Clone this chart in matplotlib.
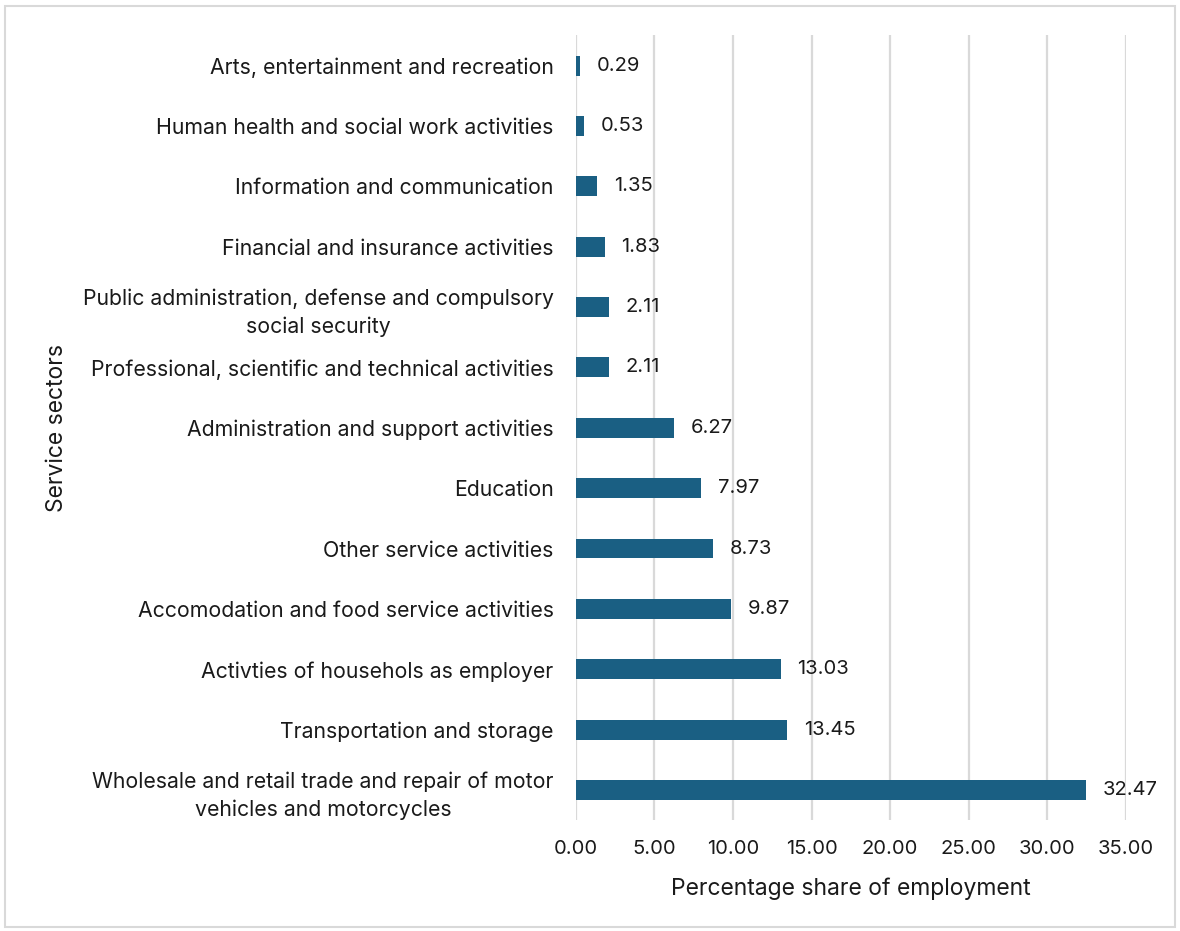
import matplotlib.pyplot as plt
from matplotlib.patches import Rectangle

plt.rcParams['font.family'] = ['Inter', 'DejaVu Sans']

# data (bottom to top)
sectors = [
    'Wholesale and retail trade and repair of motor\nvehicles and motorcycles',
    'Transportation and storage',
    'Activties of househols as employer',
    'Accomodation and food service activities',
    'Other service activities',
    'Education',
    'Administration and support activities',
    'Professional, scientific and technical activities',
    'Public administration, defense and compulsory\nsocial security',
    'Financial and insurance activities',
    'Information and communication',
    'Human health and social work activities',
    'Arts, entertainment and recreation',
]
shares = [32.47, 13.45, 13.03, 9.87, 8.73, 7.97, 6.27, 2.11, 2.11, 1.83, 1.35, 0.53, 0.29]
xticks = [0, 5, 10, 15, 20, 25, 30, 35]

bar_color = '#1a5f83'

fig = plt.figure(figsize=(11.8, 9.31), dpi=100)
ax = fig.add_axes([0.488, 0.119, 0.466, 0.843])

ypos = list(range(len(sectors)))
ax.barh(ypos, shares, height=0.33, color=bar_color, zorder=3)

for y, v in zip(ypos, shares):
    ax.annotate(f'{v:.2f}', (v, y), xytext=(12, 0), textcoords='offset points',
                va='center', ha='left', fontsize=14.5, color='#1a1a1a')

ax.set_xlim(0, 35)
ax.set_ylim(-0.5, len(sectors) - 0.5)
ax.set_xticks(xticks)
ax.set_xticklabels([f'{t:.2f}' for t in xticks], fontsize=14.5, color='#1a1a1a')
ax.set_yticks(ypos)
ax.set_yticklabels(sectors, fontsize=15.3, color='#1a1a1a', multialignment='center',
                   linespacing=1.45)
ax.tick_params(axis='both', length=0)
ax.tick_params(axis='y', pad=16)
ax.tick_params(axis='x', pad=14)

ax.grid(axis='x', color='#d9d9d9', linewidth=1.6, zorder=0)
for s in ax.spines.values():
    s.set_visible(False)

ax.set_xlabel('Percentage share of employment', fontsize=16.5, color='#1a1a1a', labelpad=14)
fig.text(0.048, 0.54, 'Service sectors', rotation=90, fontsize=16.5, color='#1a1a1a',
         ha='center', va='center')

fig.patches.append(Rectangle((0.004, 0.004), 0.992, 0.99, transform=fig.transFigure,
                             fill=False, edgecolor='#d9d9d9', linewidth=1.5))

fig.savefig('out.png', dpi=100)
